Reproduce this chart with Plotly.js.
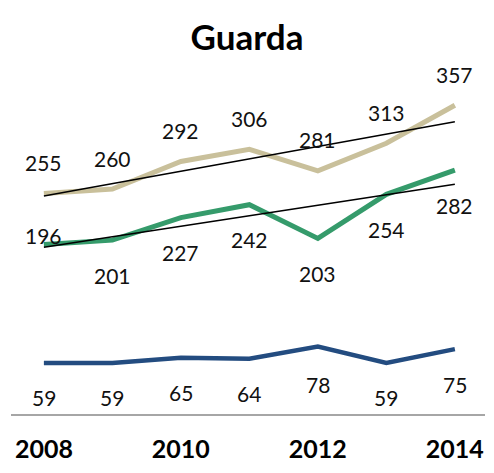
<!DOCTYPE html>
<html>
<head>
<meta charset="utf-8">
<script src="https://cdn.plot.ly/plotly-3.0.1.min.js"></script>
<style>html,body{margin:0;padding:0;background:#fff;}#chart{width:494px;height:473px;}</style>
</head>
<body>
<div id="chart"></div>
<script>
const years = [2008, 2009, 2010, 2011, 2012, 2013, 2014];
const tickYears = [2008, 2010, 2012, 2014];
const tanValues = [255, 260, 292, 306, 281, 313, 357];
const greenValues = [196, 201, 227, 242, 203, 254, 282];
const blueValues = [59, 59, 65, 64, 78, 59, 75];

function linFit(xs, ys) {
  const n = xs.length;
  const mx = xs.reduce((a, b) => a + b, 0) / n;
  const my = ys.reduce((a, b) => a + b, 0) / n;
  let sxy = 0, sxx = 0;
  for (let i = 0; i < n; i++) { sxy += (xs[i] - mx) * (ys[i] - my); sxx += (xs[i] - mx) ** 2; }
  const b = sxy / sxx, a = my - b * mx;
  return xs.map(x => a + b * x);
}

const FONT = 'Lato, "Open Sans", sans-serif';
const traces = [
  {x: years, y: tanValues, mode: 'lines', line: {color: '#C9C09B', width: 5}, hoverinfo: 'skip'},
  {x: years, y: greenValues, mode: 'lines', line: {color: '#359B6B', width: 5}, hoverinfo: 'skip'},
  {x: years, y: blueValues, mode: 'lines', line: {color: '#234C80', width: 4.5}, hoverinfo: 'skip'},
  {x: years, y: linFit(years, tanValues), mode: 'lines', line: {color: '#000', width: 1.5}, hoverinfo: 'skip'},
  {x: years, y: linFit(years, greenValues), mode: 'lines', line: {color: '#000', width: 1.5}, hoverinfo: 'skip'}
];

const annotations = [];
function addLabels(vals, shift, special) {
  vals.forEach((v, i) => {
    annotations.push({x: years[i], y: v, text: String(v), showarrow: false,
      xanchor: 'center', yanchor: 'middle',
      yshift: (special && special[i] !== undefined) ? special[i] : shift,
      font: {family: FONT, size: 21, color: '#111'}});
  });
}
addLabels(tanValues, 31);
addLabels(greenValues, -35, {0: 9});
addLabels(blueValues, -35, {4: -38});

const layout = {
  width: 494, height: 473,
  margin: {l: 11, r: 9, t: 68, b: 59},
  paper_bgcolor: '#fff', plot_bgcolor: '#fff',
  showlegend: false,
  title: {text: '<b>Guarda</b>', x: 0.5, xanchor: 'center', y: 0.92, yanchor: 'middle',
    font: {family: FONT, size: 35, color: '#000'}},
  xaxis: {range: [2007.52, 2014.44], showgrid: false, zeroline: false,
    showline: true, linecolor: '#A6A6A6', linewidth: 1.5,
    tickvals: tickYears, ticktext: tickYears.map(y => '<b>' + y + '</b>'),
    ticks: '', ticklabelstandoff: 12,
    tickfont: {family: FONT, size: 25, color: '#000'}, fixedrange: true},
  yaxis: {range: [0, 400], visible: false, showgrid: false, zeroline: false, fixedrange: true},
  annotations: annotations
};
Plotly.newPlot('chart', traces, layout, {staticPlot: true, displayModeBar: false});
</script>
</body>
</html>
